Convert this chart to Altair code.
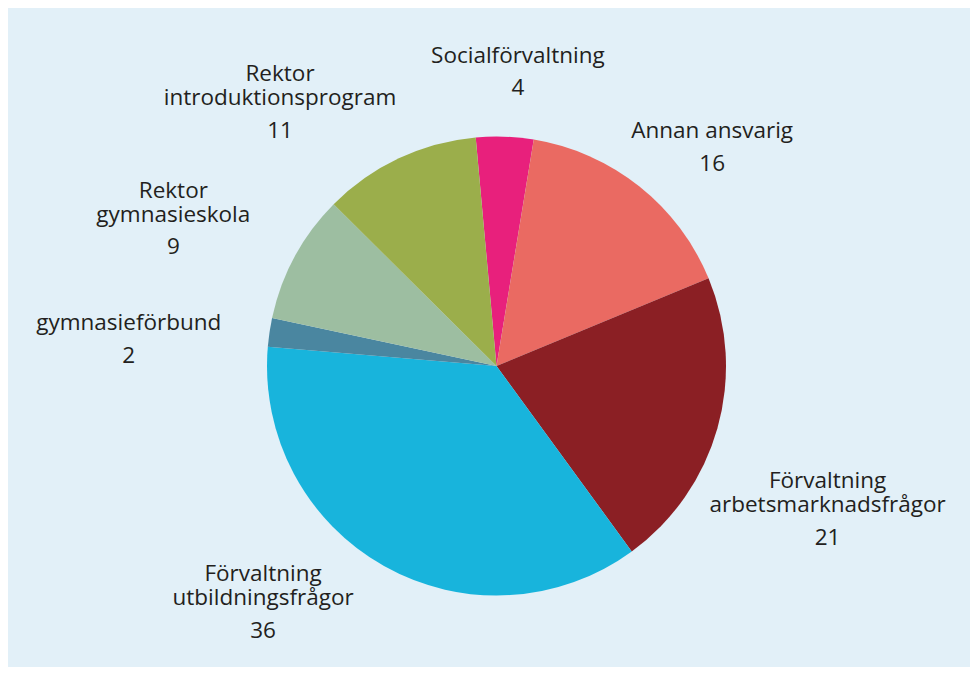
import math
import altair as alt
import pandas as pd

# ---- data ----
categories = [
    "Socialförvaltning",
    "Annan ansvarig",
    "Förvaltning\narbetsmarknadsfrågor",
    "Förvaltning\nutbildningsfrågor",
    "gymnasieförbund",
    "Rektor\ngymnasieskola",
    "Rektor\nintroduktionsprogram",
]
values = [4, 16, 21, 36, 2, 9, 11]
colors = ["#e8207c", "#ea6a62", "#8b1f24", "#18b4dc", "#4a86a0", "#9dbea1", "#9bae4b"]

# ---- layout (label placement around the pie) ----
label_nudge = [0.56, 1.55, 2.43, 3.94, -1.01, -1.40, -4.14]  # along theta, value units
label_radius = [299, 310, 364, 338, 369, 352, 335]            # px from centre
start_angle = -5.2 * math.pi / 180
FONT = "Open Sans"
FSIZE = 22.5
TXT = "#231f20"

total = sum(values)
cum = 0
mids = []
for v in values:
    mids.append(cum + v / 2)
    cum += v

first_lines = [c.split("\n")[0] if "\n" in c else "" for c in categories]
last_lines = [c.split("\n")[-1] for c in categories]

df = pd.DataFrame({
    "cat": categories,
    "value": values,
    "idx": list(range(len(values))),
    "first": first_lines,
    "last": last_lines,
    "label_pos": [m + n for m, n in zip(mids, label_nudge)],
    "label_r": label_radius,
})

theta_scale = alt.Scale(domain=[0, total],
                        range=[2 * math.pi + start_angle, 4 * math.pi + start_angle])

base = alt.Chart(df)

pie = base.mark_arc(outerRadius=229.5, strokeWidth=0).encode(
    theta=alt.Theta("value:Q", stack=True, scale=theta_scale),
    order=alt.Order("idx:Q"),
    color=alt.Color("cat:N", scale=alt.Scale(domain=categories, range=colors), legend=None),
)

pos = dict(
    theta=alt.Theta("label_pos:Q", stack=None, scale=theta_scale),
    radius=alt.Radius("label_r:Q", scale=None),
)

name_last = base.mark_text(
    font=FONT, fontSize=FSIZE, color=TXT, align="center", baseline="bottom",
).encode(text="last:N", **pos)

name_first = base.mark_text(
    font=FONT, fontSize=FSIZE, color=TXT, align="center", baseline="bottom", dy=-24,
).encode(text="first:N", **pos)

numbers = base.mark_text(
    font=FONT, fontSize=FSIZE, color=TXT, align="center", baseline="top", dy=9.5,
).encode(text="value:Q", **pos)

chart = alt.layer(pie, name_last, name_first, numbers).properties(
    width=947,
    height=602,
    autosize=alt.AutoSizeParams(type="none"),
    padding={"left": 15, "top": 57, "right": 0, "bottom": 0},
    background="#e2f0f8",
).configure_view(stroke=None)

chart.save("out.html", embed_options={"renderer": "svg", "actions": False})
